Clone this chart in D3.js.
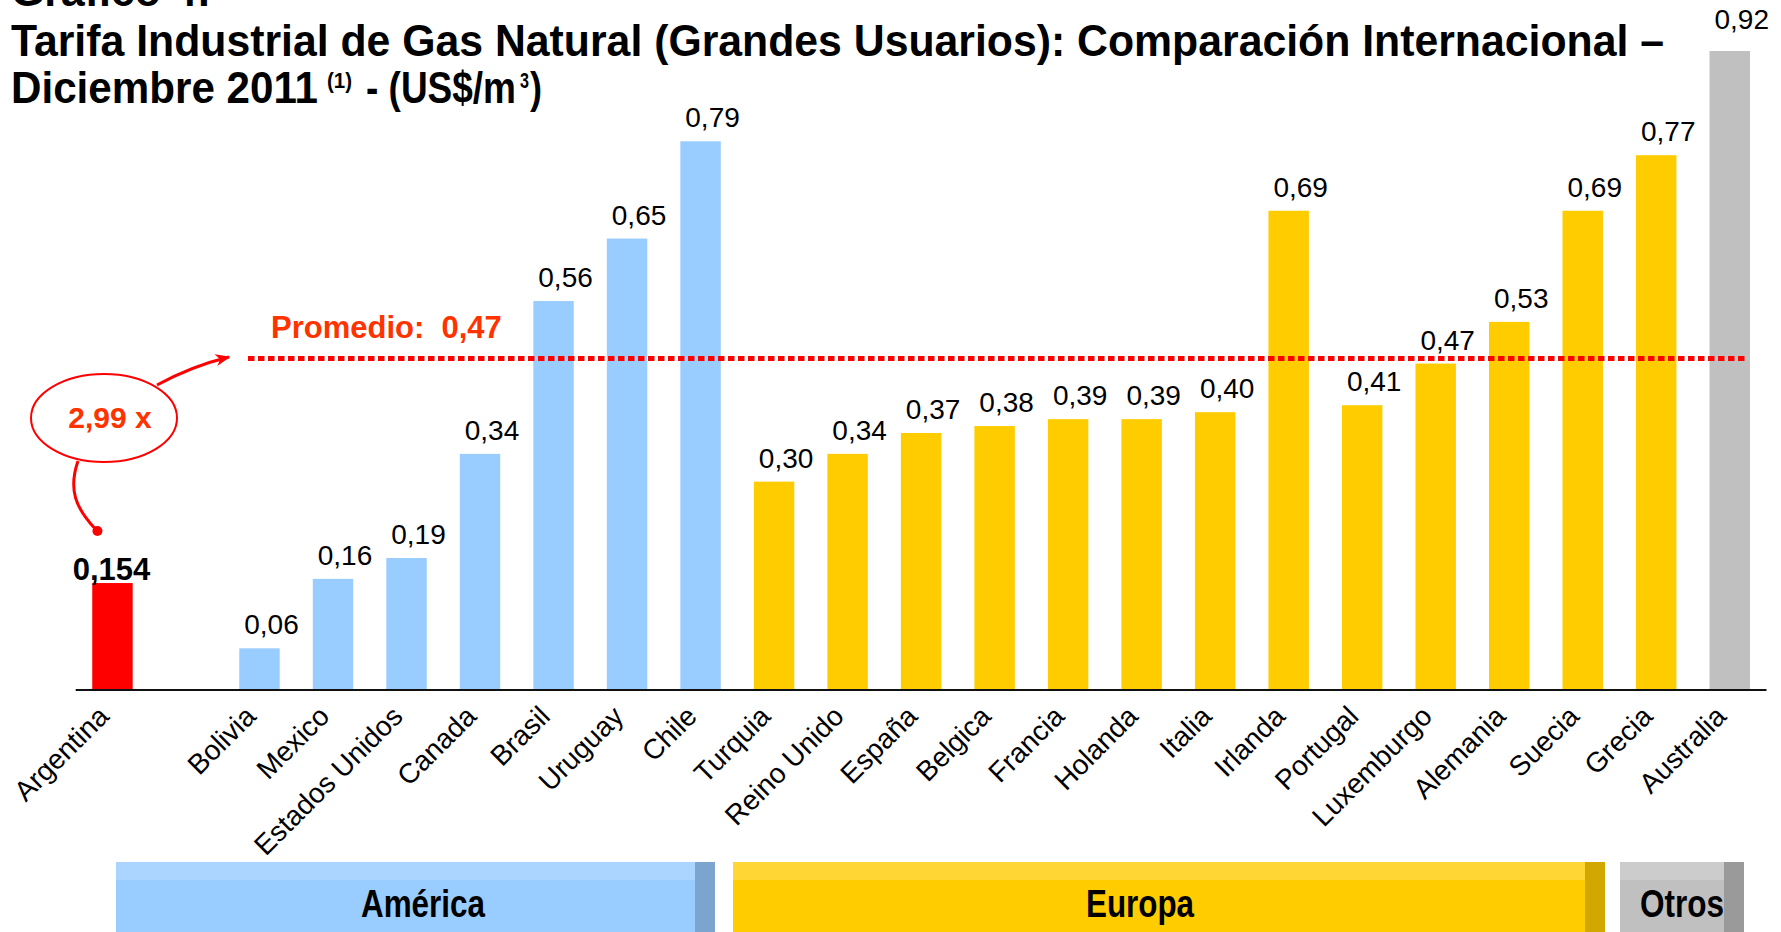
<!DOCTYPE html>
<html>
<head>
<meta charset="utf-8">
<script src="https://cdn.jsdelivr.net/npm/d3@7"></script>
<style>
  body { margin: 0; background: #fff; }
  svg { display: block; }
</style>
</head>
<body>
<div id="chart"></div>
<script>
// data
const paises = ['Argentina', 'Bolivia', 'Mexico', 'Estados Unidos', 'Canada', 'Brasil', 'Uruguay', 'Chile',
  'Turquia', 'Reino Unido', 'España', 'Belgica', 'Francia', 'Holanda', 'Italia', 'Irlanda',
  'Portugal', 'Luxemburgo', 'Alemania', 'Suecia', 'Grecia', 'Australia'];
const tarifas = [0.154, 0.06, 0.16, 0.19, 0.34, 0.56, 0.65, 0.79,
  0.30, 0.34, 0.37, 0.38, 0.39, 0.39, 0.40, 0.69,
  0.41, 0.47, 0.53, 0.69, 0.77, 0.92];
const regiones = ['Argentina', 'América', 'América', 'América', 'América', 'América', 'América', 'América',
  'Europa', 'Europa', 'Europa', 'Europa', 'Europa', 'Europa', 'Europa', 'Europa',
  'Europa', 'Europa', 'Europa', 'Europa', 'Europa', 'Otros'];
const grupos = ['América', 'Europa', 'Otros'];
const promedio = 0.47;
const multiplo = '2,99 x';

const colores = { Argentina: '#ff0000', 'América': '#99ccff', Europa: '#ffcc00', Otros: '#c0c0c0' };
const cajaColores = {
  'América': { main: '#99ccff', top: '#abd5ff', side: '#7ba5ce' },
  Europa: { main: '#ffcc00', top: '#ffd633', side: '#d1a700' },
  Otros: { main: '#c0c0c0', top: '#cccccc', side: '#9a9a9a' }
};

const width = 1781, height = 932;
const baseY = 690;
const es = d3.formatLocale({ decimal: ',', thousands: '.', grouping: [3], currency: ['', ''] });
const fmt2 = es.format('.2f'), fmt3 = es.format('.3f');

const data = paises.map((p, i) => ({ pais: p, valor: tarifas[i], region: regiones[i] }));

// empty slot between Argentina and the rest
const dominio = ['Argentina', '_gap', ...paises.slice(1)];

const x = d3.scaleBand()
  .domain(dominio)
  .range([75.7, 1766.5])
  .paddingInner(0.45)
  .paddingOuter(0.225);

const y = d3.scaleLinear()
  .domain([0, 0.92])
  .range([baseY, 51]);

const svg = d3.select('#chart')
  .append('svg')
  .attr('width', width)
  .attr('height', height);

const bold = 'Liberation Sans Narrow, Arial Narrow, Liberation Sans, Arial, sans-serif';
const sans = 'Liberation Sans, Arial, Helvetica, sans-serif';

// title (first line is cut at the top of the picture)
function titulo(txt, tx, ty, size, len) {
  svg.append('text')
    .attr('x', tx).attr('y', ty)
    .attr('textLength', len).attr('lengthAdjust', 'spacingAndGlyphs')
    .style('font-family', bold).style('font-weight', 'bold')
    .style('font-size', size + 'px').style('fill', '#000')
    .text(txt);
}
titulo('Gráfico 4:', 11, 6, 44, 200);
titulo('Tarifa Industrial de Gas Natural (Grandes Usuarios): Comparación Internacional –', 11, 56, 44, 1653);

// second line with superscripts, kept in one text element
const linea2 = svg.append('text')
  .attr('y', 103)
  .style('font-family', bold).style('font-weight', 'bold')
  .style('font-size', '44px').style('fill', '#000');
[
  { t: 'Diciembre 2011', x: 11, dy: 0, s: 44, w: 307 },
  { t: '(1)', x: 327, dy: -15, s: 22, w: 25 },
  { t: '- (US$/m', x: 366, dy: 15, s: 44, w: 150 },
  { t: '3', x: 520, dy: -15, s: 22, w: 9 },
  { t: ')', x: 530, dy: 15, s: 44, w: 12 }
].forEach(p => {
  linea2.append('tspan')
    .attr('x', p.x).attr('dy', p.dy)
    .attr('textLength', p.w).attr('lengthAdjust', 'spacingAndGlyphs')
    .style('font-size', p.s + 'px')
    .text(p.t);
});

// bars
svg.append('g')
  .selectAll('rect')
  .data(data)
  .enter()
  .append('rect')
  .attr('x', d => x(d.pais))
  .attr('y', d => y(d.valor))
  .attr('width', x.bandwidth())
  .attr('height', d => y(0) - y(d.valor))
  .style('fill', d => colores[d.region]);

// value labels
svg.append('g')
  .selectAll('text')
  .data(data)
  .enter()
  .append('text')
  .attr('x', d => x(d.pais) + x.bandwidth() / 2 + (d.pais === 'Argentina' ? -1 : 12))
  .attr('y', d => y(d.valor) - (d.pais === 'Argentina' ? 3 : d.pais === 'Australia' ? 22 : 14))
  .style('text-anchor', 'middle')
  .style('font-family', sans)
  .style('font-size', d => d.pais === 'Argentina' ? '31px' : '28px')
  .style('font-weight', d => d.pais === 'Argentina' ? 'bold' : 'normal')
  .style('fill', '#000')
  .text(d => d.pais === 'Argentina' ? fmt3(d.valor) : fmt2(d.valor));

// x axis
const xAxis = d3.axisBottom(x)
  .tickSize(0)
  .tickFormat(d => d === '_gap' ? '' : d);

const gx = svg.append('g')
  .attr('transform', `translate(0, ${baseY})`)
  .call(xAxis);
gx.select('.domain').attr('d', `M${x.range()[0]},0H${x.range()[1]}`)
  .style('stroke', '#111').style('stroke-width', 2);
gx.selectAll('.tick text')
  .attr('y', 0).attr('dy', 0)
  .attr('transform', 'translate(-2, 28) rotate(-45)')
  .style('text-anchor', 'end')
  .style('font-family', sans)
  .style('font-size', '28px')
  .style('fill', '#000');

// average line
const promY = y(promedio) - 5; // drawn a touch above the 0,47 level in the original
svg.append('line')
  .attr('x1', 248).attr('x2', 1748)
  .attr('y1', promY).attr('y2', promY)
  .style('stroke', '#ff0000')
  .style('stroke-width', 5)
  .style('stroke-dasharray', '6.5 3.5');

svg.append('text')
  .attr('x', 271).attr('y', promY - 21)
  .style('font-family', sans).style('font-weight', 'bold')
  .style('font-size', '31px').style('fill', '#ff3300')
  .style('white-space', 'pre')
  .text('Promedio:  ' + fmt2(promedio));

// callout: ellipse with multiple and arrows
const argX = x('Argentina') + x.bandwidth() / 2;
svg.append('defs').append('marker')
  .attr('id', 'flecha')
  .attr('viewBox', '0 0 10 10')
  .attr('refX', 9).attr('refY', 5)
  .attr('markerWidth', 5).attr('markerHeight', 5)
  .attr('orient', 'auto')
  .append('path')
  .attr('d', 'M0,1 L10,5 L0,9 L3,5 Z')
  .style('fill', '#ff0000');

svg.append('ellipse')
  .attr('cx', 104).attr('cy', 418)
  .attr('rx', 73).attr('ry', 44)
  .style('fill', '#fff')
  .style('stroke', '#ff0000')
  .style('stroke-width', 2);

svg.append('text')
  .attr('x', 110).attr('y', 428)
  .style('text-anchor', 'middle')
  .style('font-family', sans).style('font-weight', 'bold')
  .style('font-size', '30px').style('fill', '#ff3300')
  .text(multiplo);

svg.append('path')
  .attr('d', `M157,385 Q192,366 229,357`)
  .style('fill', 'none').style('stroke', '#ff0000').style('stroke-width', 3)
  .attr('marker-end', 'url(#flecha)');

svg.append('path')
  .attr('d', `M78,461 C68,490 76,508 ${argX - 18},528`)
  .style('fill', 'none').style('stroke', '#ff0000').style('stroke-width', 3);
svg.append('circle')
  .attr('cx', argX - 15).attr('cy', 531).attr('r', 5)
  .style('fill', '#ff0000');

// region boxes at the bottom
const cajas = {
  'América': { x0: 116, x1: 715, tx: 423, tw: 124 },
  Europa: { x0: 733, x1: 1605, tx: 1140, tw: 108 },
  Otros: { x0: 1620, x1: 1744, tx: 1682, tw: 84 }
};
const cajaTop = 862, sideW = 20, topH = 18;

const gCajas = svg.append('g')
  .selectAll('g')
  .data(grupos)
  .enter()
  .append('g');

gCajas.append('rect')
  .attr('x', d => cajas[d].x0).attr('y', cajaTop)
  .attr('width', d => cajas[d].x1 - cajas[d].x0).attr('height', height - cajaTop)
  .style('fill', d => cajaColores[d].main);
gCajas.append('rect')
  .attr('x', d => cajas[d].x0).attr('y', cajaTop)
  .attr('width', d => cajas[d].x1 - cajas[d].x0 - sideW).attr('height', topH)
  .style('fill', d => cajaColores[d].top);
gCajas.append('rect')
  .attr('x', d => cajas[d].x1 - sideW).attr('y', cajaTop)
  .attr('width', sideW).attr('height', height - cajaTop)
  .style('fill', d => cajaColores[d].side);
gCajas.append('text')
  .attr('x', d => cajas[d].tx).attr('y', 917)
  .attr('textLength', d => cajas[d].tw).attr('lengthAdjust', 'spacingAndGlyphs')
  .style('text-anchor', 'middle')
  .style('font-family', bold).style('font-weight', 'bold')
  .style('font-size', '38px').style('fill', '#000')
  .text(d => d);
</script>
</body>
</html>
